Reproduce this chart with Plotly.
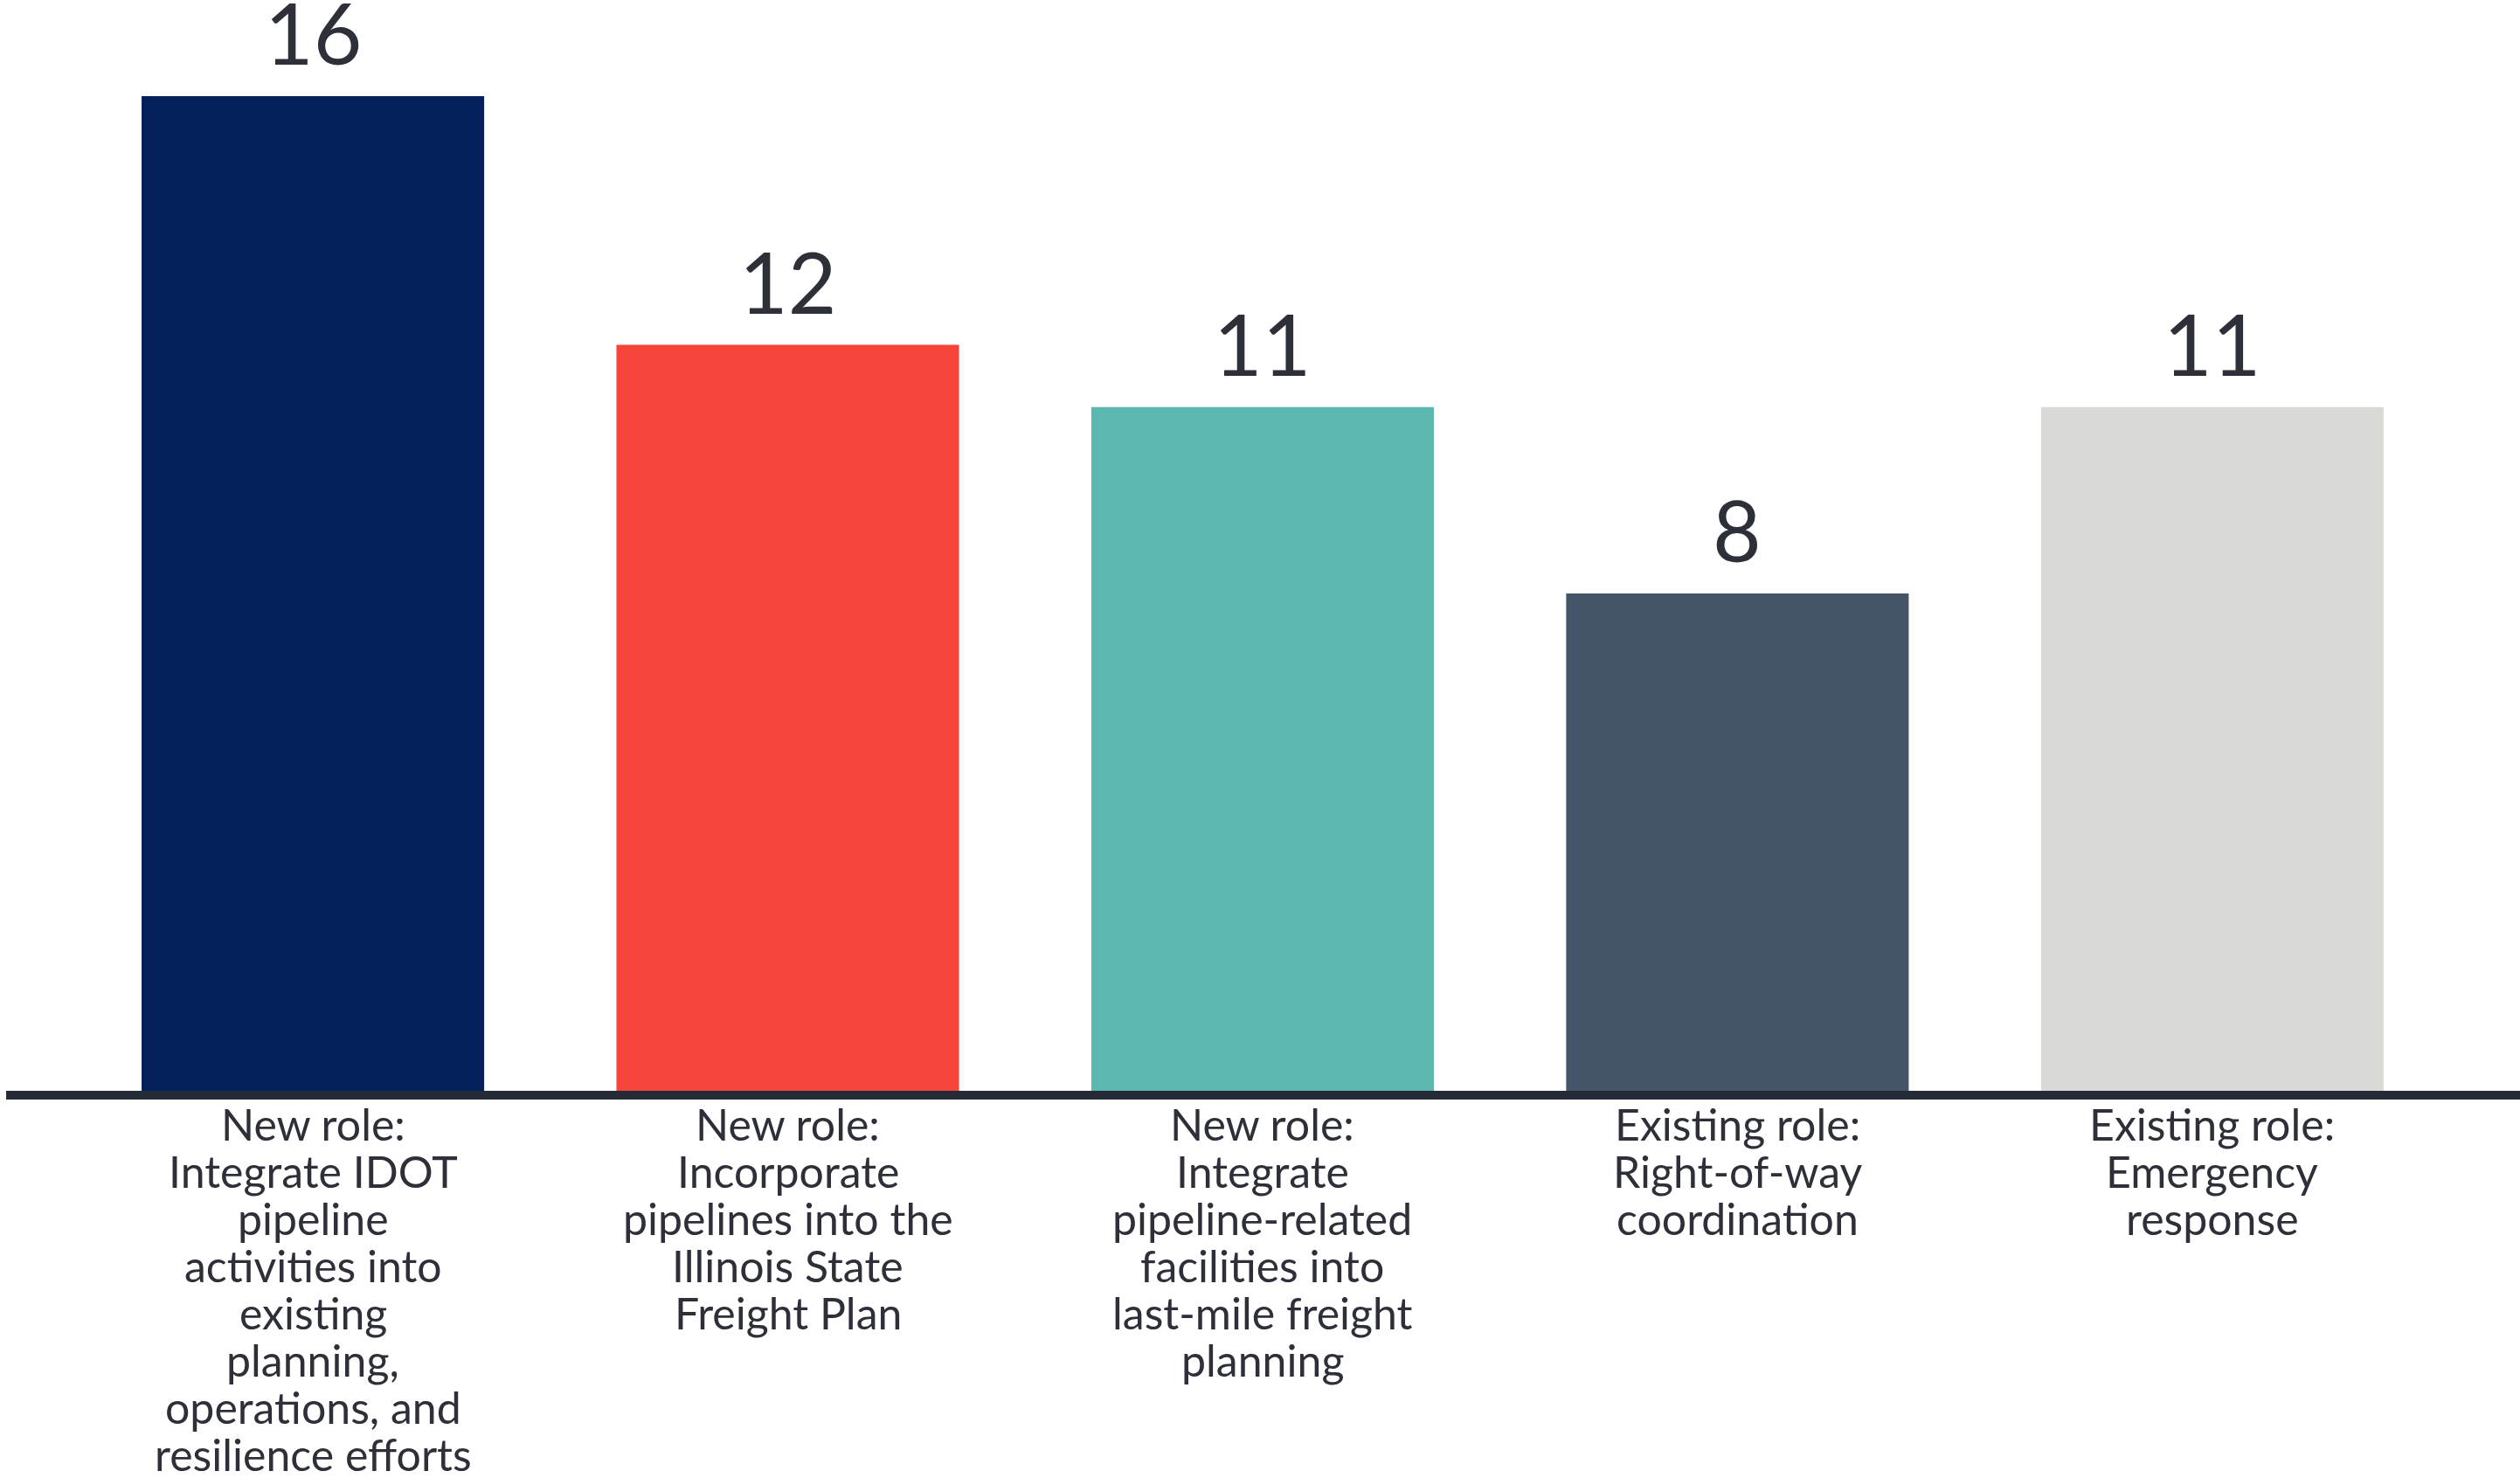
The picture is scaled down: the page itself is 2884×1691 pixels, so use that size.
import plotly.graph_objects as go

categories = [
    "New role:<br>Integrate IDOT<br>pipeline<br>activities into<br>existing<br>planning,<br>operations, and<br>resilience efforts",
    "New role:<br>Incorporate<br>pipelines into the<br>Illinois State<br>Freight Plan",
    "New role:<br>Integrate<br>pipeline-related<br>facilities into<br>last-mile freight<br>planning",
    "Existing role:<br>Right-of-way<br>coordination",
    "Existing role:<br>Emergency<br>response",
]
values = [16, 12, 11, 8, 11]
bar_colors = ["#031f5c", "#f7443b", "#5cb7b1", "#445469", "#d9dad6"]

FONT = "Lato"
TEXT_COLOR = "#2d3038"
LABEL_SIZE = 50
LINE_PITCH = 54
VALUE_SIZE = 96

fig = go.Figure()
fig.add_trace(go.Bar(
    x=categories,
    y=values,
    marker=dict(color=bar_colors, line=dict(width=0)),
    hoverinfo="skip",
))

annotations = []
# value labels above bars
for cat, val in zip(categories, values):
    annotations.append(dict(
        x=cat, y=val, xref="x", yref="y",
        text=str(val), showarrow=False,
        xanchor="center", yanchor="bottom", yshift=14,
        height=92, valign="bottom",
        font=dict(family=FONT, size=VALUE_SIZE, color=TEXT_COLOR),
    ))
# category labels below axis, one line each for tight line spacing
for cat in categories:
    for i, line in enumerate(cat.split("<br>")):
        annotations.append(dict(
            x=cat, y=0, xref="x", yref="paper",
            text=line, showarrow=False,
            xanchor="center", yanchor="top", yshift=-(12 + i * LINE_PITCH),
            height=LINE_PITCH, valign="bottom",
            font=dict(family=FONT, size=LABEL_SIZE, color=TEXT_COLOR),
        ))

fig.update_layout(
    width=2884, height=1691,
    margin=dict(l=7, r=0, t=39, b=443, pad=0),
    paper_bgcolor="white", plot_bgcolor="white",
    bargap=0.2786,
    showlegend=False,
    annotations=annotations,
    font=dict(family=FONT, color=TEXT_COLOR),
)
fig.update_xaxes(
    range=[-0.646, 4.648],
    showticklabels=False, ticks="",
    showline=True, linecolor="#252b36", linewidth=10,
    showgrid=False, zeroline=False, fixedrange=True,
)
fig.update_yaxes(
    range=[0, 17],
    visible=False, showgrid=False, zeroline=False, fixedrange=True,
)

fig.write_html("out.html", post_script="document.body.style.margin='0';",
               config={"displayModeBar": False})
